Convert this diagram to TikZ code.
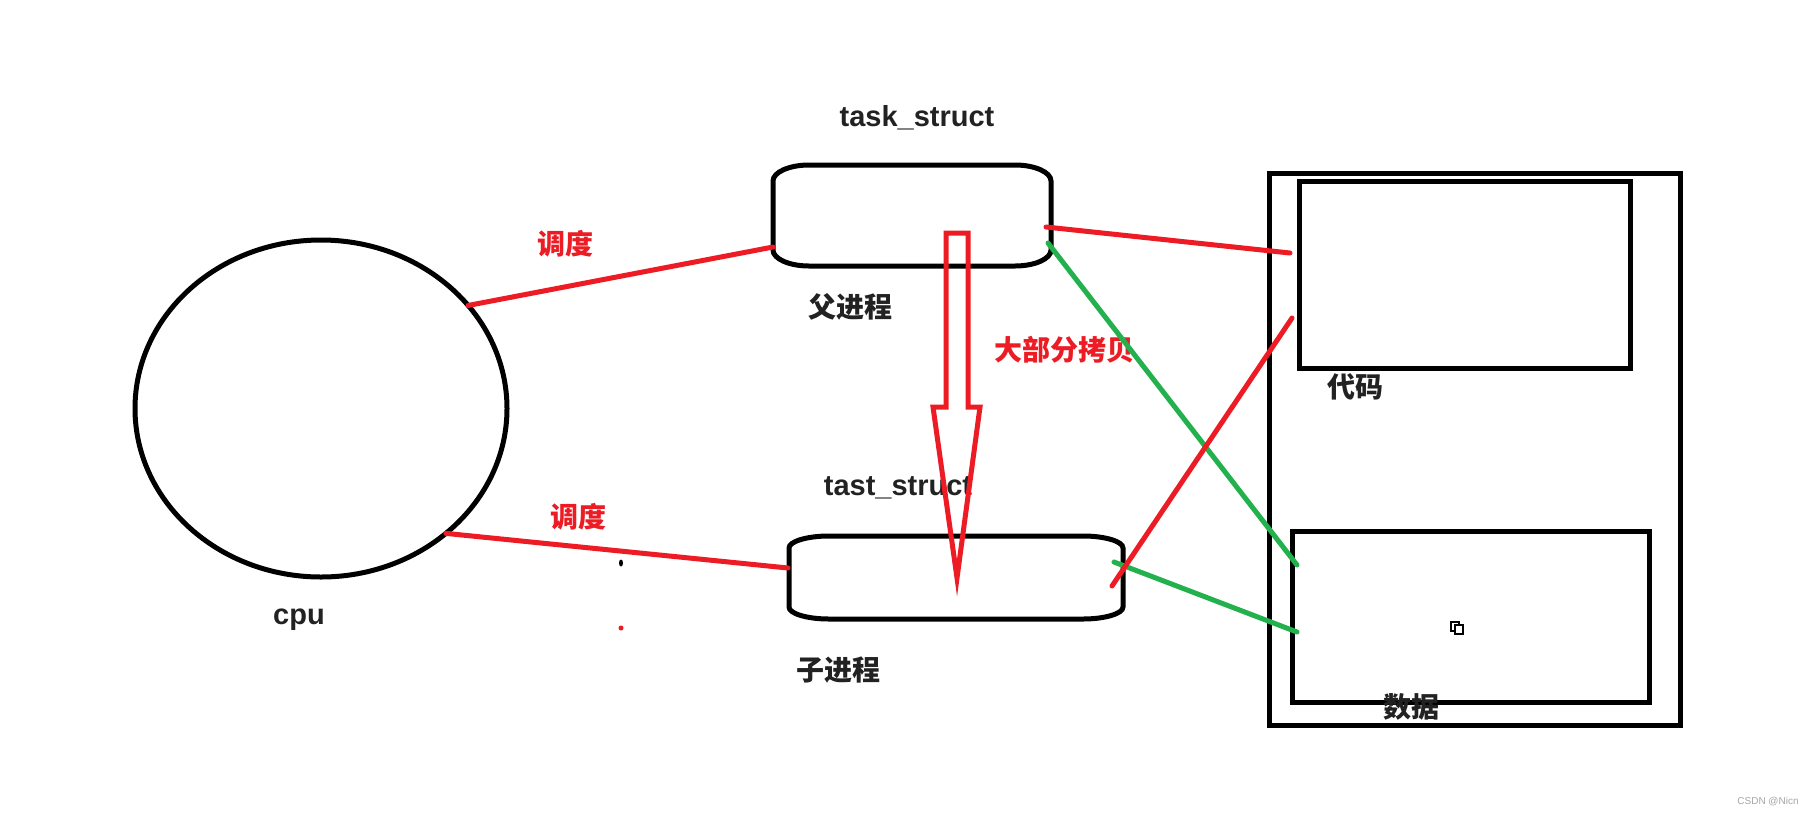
\documentclass[tikz,border=0pt]{standalone}
\usepackage{fontspec}
\setmainfont{Liberation Sans}
\newfontfamily\cjk{Noto Sans CJK SC}
\usetikzlibrary{shapes.geometric}
\definecolor{pred}{HTML}{ED1C24}
\definecolor{pgreen}{HTML}{22B14C}
\definecolor{ink}{HTML}{222222}
\tikzset{
  outline/.style={draw=black, line width=5pt},
  boxnode/.style={outline, inner sep=0pt, outer sep=0pt},
  redline/.style={draw=pred, line width=5pt, line cap=round},
  greenline/.style={draw=pgreen, line width=5pt, line cap=round},
  lbl/.style={text=ink, font=\fontsize{29}{32}\selectfont\bfseries, inner sep=0pt},
  cnlbl/.style={text=ink, font=\fontsize{28}{30}\selectfont\cjk\bfseries, inner sep=0pt},
  redlbl/.style={cnlbl, text=pred},
}
% rounded process box: name, cx, cy, w, h, rx, ry
\newcommand\procbox[7]{%
  \node[minimum width=#4pt, minimum height=#5pt, inner sep=0pt, outer sep=0pt] (#1) at (#2,#3) {};
  \draw[outline] ([xshift=#6pt]#1.north west) -- ([xshift=-#6pt]#1.north east)
    .. controls ([xshift=-0.45*#6pt]#1.north east) and ([yshift=-0.45*#7pt]#1.north east) .. ([yshift=-#7pt]#1.north east)
    -- ([yshift=#7pt]#1.south east)
    .. controls ([yshift=0.45*#7pt]#1.south east) and ([xshift=-0.45*#6pt]#1.south east) .. ([xshift=-#6pt]#1.south east)
    -- ([xshift=#6pt]#1.south west)
    .. controls ([xshift=0.45*#6pt]#1.south west) and ([yshift=0.45*#7pt]#1.south west) .. ([yshift=#7pt]#1.south west)
    -- ([yshift=-#7pt]#1.north west)
    .. controls ([yshift=-0.45*#7pt]#1.north west) and ([xshift=0.45*#6pt]#1.north west) .. ([xshift=#6pt]#1.north west)
    -- cycle;}
\begin{document}
\begin{tikzpicture}[x=1pt, y=-1pt]
\useasboundingbox[fill=white] (0,0) rectangle (1811,815);

% cpu
\node[ellipse, boxnode, minimum width=372pt, minimum height=337pt] (cpu) at (321,408.5) {};
\node[lbl] (cpulbl) at (299,620) {cpu};

% process boxes
\procbox{pbox}{912}{215.5}{278}{101}{36}{16}
\procbox{cbox}{956}{577.5}{334}{83}{40}{12}

% memory
\node[rectangle, boxnode, minimum width=411pt, minimum height=552pt] (mem) at (1474.5,449) {};
\node[rectangle, boxnode, minimum width=331pt, minimum height=187pt] (code) at (1464.5,274.5) {};
\node[rectangle, boxnode, minimum width=357pt, minimum height=171pt] (data) at (1470.5,616.5) {};
\node[cnlbl] (codelbl) at (1355,387) {代码};
\node[cnlbl] (datalbl) at (1411,707) {数据};
\draw[line width=1.3pt] (1451,622) rectangle (1459,631);
\draw[line width=1.3pt, fill=white] (1455,625) rectangle (1463,634);

% labels
\node[lbl] (t1) at (917,118) {task\_struct};
\node[cnlbl] (plbl) at (850,307) {父进程};
\node[lbl] (t2) at (898,488) {tast\_struct};
\node[cnlbl] (clbl) at (838,670) {子进程};
\node[redlbl] (s1) at (565,244) {调度};
\node[redlbl] (s2) at (578,517) {调度};
\node[redlbl] (copy) at (1064,350) {大部分拷贝};

% connectors
\draw[redline] (cpu.35) -- ([shift={(0,31.5)}]pbox.west);
\draw[redline] (cpu.-45) -- ([shift={(-1,-9.5)}]cbox.west);
\draw[redline] ([shift={(-5,11.5)}]pbox.east) -- ([shift={(-9,-21.5)}]code.west);
\draw[greenline] ([shift={(-3,27.5)}]pbox.east) -- ([shift={(5,-51.5)}]data.west);
\draw[greenline] ([shift={(-9,-15.5)}]cbox.east) -- ([shift={(5,15.5)}]data.west);
\draw[redline] ([shift={(-11,8.5)}]cbox.east) -- ([shift={(-7,43.5)}]code.west);

% dots
\fill[black] (621,563) ellipse (2pt and 3.5pt);
\fill[pred] (621,628) circle (2.5pt);

% copy arrow
\draw[pred, line width=5pt, line join=miter] (946,233) -- (968,233) -- (968,407) -- (980,407) -- (957,578) -- (933,407) -- (946,407) -- cycle;

% watermark
\node[text=gray!70, font=\fontsize{10}{12}\selectfont, inner sep=0pt] (wm) at (1768,802) {CSDN @Nicn};
\end{tikzpicture}
\end{document}
